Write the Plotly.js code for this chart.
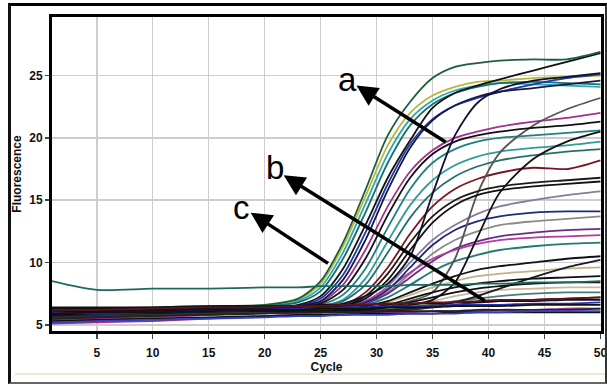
<!DOCTYPE html>
<html><head><meta charset="utf-8">
<script src="https://cdn.plot.ly/plotly-3.0.1.min.js"></script>
<style>
html,body{margin:0;padding:0;background:#fff;}
#wrap{position:relative;width:607px;height:385px;overflow:hidden;background:#fff;}
#chart{position:absolute;left:0;top:0;width:607px;height:385px;}
#frame{position:absolute;box-sizing:border-box;left:8px;top:3px;width:599px;height:381px;border-top:3px solid #000;border-left:3px solid #111;border-right:2px solid #333;border-bottom:2px solid #666;pointer-events:none;}
#rule{position:absolute;left:15px;top:373px;width:590px;height:2px;background:#efe6d8;pointer-events:none;}
</style></head>
<body>
<div id="wrap"><div id="chart"></div><div id="rule"></div><div id="frame"></div></div>
<script>
// Cycle numbers at which each curve was read
const cycles = [1,5,10,15,20,23,25,27,29,31,33,35,37,39,41,44,47,50];

// Fluorescence readings per curve
const curveA  = [6.3,6.3,6.4,6.5,6.6, 7.1,8.5,11.6,15.8,20.2,22.9,24.8,25.7,26.0,26.2,26.3,26.3,26.9];
const curveB  = [6.0,6.1,6.2,6.3,6.5, 7.0,8.3,11.3,15.3,19.4,22.0,23.4,24.1,24.5,24.6,24.8,24.9,25.0];
const curveC  = [5.8,5.9,6.0,6.2,6.4, 6.9,8.0,10.8,14.7,18.7,21.5,23.0,23.8,24.2,24.4,24.3,24.2,24.1];
const curveD  = [6.2,6.2,6.3,6.4,6.5, 6.8,7.7,10.3,14.0,18.0,21.0,22.7,23.6,24.1,24.4,24.5,24.4,24.3];
const curveE  = [6.1,6.1,6.2,6.3,6.4, 6.6,7.3,9.5,13.0,16.8,19.8,22.4,23.6,24.2,24.7,25.4,26.1,26.8];
const curveF  = [5.6,5.7,5.8,6.0,6.2, 6.5,7.1,9.0,12.4,16.3,19.5,21.5,22.6,23.2,23.7,24.3,24.8,25.1];
const curveG  = [5.8,5.9,6.0,6.1,6.3, 6.5,6.9,8.6,11.8,15.8,19.2,21.4,22.6,23.3,23.7,24.0,24.3,24.6];
const curveH  = [5.4,5.5,5.7,5.9,6.1, 6.4,6.8,8.2,11.0,14.5,17.3,19.0,20.0,20.5,20.9,21.3,21.6,22.0];
const curveI  = [6.0,6.0,6.1,6.2,6.3, 6.4,6.7,7.8,10.3,13.8,16.8,18.7,19.7,20.2,20.5,20.8,21.0,21.3];
const curveJ  = [5.7,5.8,5.9,6.0,6.2, 6.3,6.6,7.4,9.5,12.8,15.9,18.0,19.1,19.7,20.0,20.2,20.4,20.6];
const curveK  = [6.1,6.1,6.2,6.2,6.3, 6.3,6.5,7.0,8.7,11.7,14.6,16.6,17.8,18.5,18.9,19.2,19.4,19.7];
const curveL  = [5.9,6.0,6.0,6.1,6.2, 6.3,6.5,6.9,8.2,10.8,13.6,15.6,16.9,17.7,18.2,18.6,18.9,19.1];
const curveM  = [5.5,5.6,5.8,5.9,6.1, 6.2,6.3,6.6,7.6,9.6,12.3,14.5,15.9,16.7,17.2,17.6,17.5,18.2];
const curveN  = [6.0,6.0,6.1,6.1,6.2, 6.2,6.3,6.5,7.3,9.1,11.6,13.7,15.0,15.7,16.1,16.4,16.6,16.8];
const curveO  = [6.3,6.3,6.3,6.3,6.3, 6.2,6.3,6.5,7.1,8.6,11.0,13.2,14.6,15.4,15.8,16.1,16.3,16.5];
const curveP  = [5.6,5.7,5.8,5.9,6.0, 6.1,6.2,6.4,6.9,8.1,10.0,11.8,13.0,13.9,14.5,15.0,15.4,15.7];
const curveQ  = [5.7,5.8,5.9,6.0,6.1, 6.1,6.2,6.4,6.8,7.8,9.6,11.4,12.6,13.3,13.7,14.0,14.1,14.1];
const curveR  = [6.1,6.1,6.1,6.1,6.1, 6.1,6.2,6.3,6.7,7.6,9.1,10.7,11.8,12.5,13.0,13.3,13.5,13.7];
const curveS  = [5.5,5.6,5.7,5.8,6.0, 6.1,6.2,6.3,6.7,7.5,8.8,10.1,11.1,11.7,12.1,12.4,12.6,12.7];
const curveT  = [5.3,5.4,5.6,5.8,6.0, 6.1,6.2,6.4,6.9,7.9,9.2,10.3,11.0,11.5,11.8,12.0,12.1,12.2];
const curveU  = [6.0,6.0,6.0,6.1,6.1, 6.1,6.2,6.3,6.6,7.2,8.2,9.3,10.1,10.6,11.0,11.3,11.5,11.6];
const curveV  = [5.8,5.9,5.9,6.0,6.0, 6.1,6.1,6.2,6.5,6.9,7.6,8.3,8.9,9.4,9.7,10.0,10.3,10.5];
const curveW  = [5.6,5.7,5.8,5.9,6.0, 6.0,6.0,6.1,6.1,6.2,6.3,6.5,6.8,7.3,7.9,8.8,9.6,10.2];
const curveX  = [6.2,6.2,6.2,6.2,6.1, 6.1,6.2,6.2,6.4,6.8,7.4,8.0,8.5,8.9,9.1,9.3,9.5,9.6];
const curveY  = [5.9,5.9,6.0,6.0,6.0, 6.0,6.1,6.2,6.3,6.6,7.1,7.6,8.0,8.3,8.5,8.7,8.8,8.9];
const curveZ  = [5.7,5.7,5.8,5.9,6.0, 6.0,6.0,6.1,6.2,6.4,6.8,7.2,7.6,7.9,8.1,8.3,8.4,8.4];
const curveAA = [6.3,6.3,6.2,6.1,6.0, 6.0,6.0,6.1,6.2,6.3,6.6,6.9,7.3,7.6,7.8,7.9,8.0,8.0];
const curveAB = [5.8,5.8,5.9,5.9,6.0, 6.0,6.0,6.0,6.1,6.2,6.4,6.6,6.9,7.1,7.3,7.5,7.6,7.6];
const curveAC = [5.6,5.7,5.8,5.9,6.0, 6.0,6.0,6.0,6.0,6.1,6.2,6.4,6.6,6.8,6.9,7.0,7.1,7.2];
const lateA   = [6.0,6.0,6.1,6.2,6.3, 6.3,6.4,6.7,7.3,8.3,10.5,15.5,20.2,22.8,23.9,24.6,24.9,25.2];
const lateB   = [5.9,5.9,6.0,6.0,6.1, 6.1,6.2,6.3,6.4,6.6,6.9,7.6,10.3,15.5,18.8,21.0,22.3,23.2];
const lateC   = [6.1,6.1,6.1,6.1,6.1, 6.1,6.1,6.2,6.3,6.4,6.6,7.0,8.4,12.0,15.6,18.3,19.7,20.5];
const flatA   = [5.3,5.4,5.5,5.6,5.7, 5.8,5.8,5.8,5.9,5.9,5.9,5.9,6.0,6.0,6.0,6.0,6.0,6.0];
const flatB   = [5.5,5.6,5.7,5.8,5.9, 6.0,6.0,6.0,6.0,6.1,6.1,6.1,6.1,6.2,6.2,6.2,6.2,6.3];
const flatC   = [5.9,6.0,6.0,6.1,6.2, 6.2,6.3,6.3,6.3,6.4,6.4,6.4,6.5,6.5,6.5,6.6,6.6,6.6];
const flatD   = [6.4,6.4,6.4,6.5,6.5, 6.5,6.6,6.6,6.6,6.7,6.7,6.7,6.8,6.8,6.9,6.9,7.0,7.0];
const flatE   = [5.2,5.3,5.4,5.5,5.6, 5.7,5.7,5.8,5.8,5.8,5.9,5.9,5.9,6.0,6.0,6.1,6.1,6.1];
const flatF   = [5.1,5.2,5.3,5.5,5.7, 5.8,5.8,5.9,5.9,6.0,6.0,6.1,6.1,6.1,6.2,6.2,6.3,6.3];
const flatG   = [6.2,6.2,6.3,6.4,6.4, 6.5,6.5,6.6,6.6,6.7,6.7,6.8,6.8,6.9,7.0,7.0,7.1,7.2];
const flatH   = [6.0,5.9,6.0,6.1,6.2, 6.3,6.3,6.4,6.4,6.5,6.5,6.5,6.6,6.6,6.6,6.7,6.7,6.8];
const tealHigh= [8.5,7.8,7.9,7.9,8.0, 8.0,8.1,8.1,8.1,8.1,8.2,8.2,8.2,8.3,8.3,8.4,8.4,8.5];

const xTicks = [5,10,15,20,25,30,35,40,45,50];
const yTicks = [5,10,15,20,25];

// series with their line colours (drawing order)
const seriesList = [
  [curveB,'#b9b836'],[curveC,'#2ba7b9'],[curveD,'#17716e'],[curveK,'#2f9b9b'],[curveJ,'#1f8181'],
  [curveL,'#26706a'],[curveH,'#a3308e'],[curveP,'#8c7a9c'],[curveR,'#8a8a8a'],[curveS,'#6b2b8b'],
  [curveT,'#b23c9c'],[curveU,'#1f7a70'],[curveX,'#c2b28a'],[curveAA,'#c9b997'],[curveAB,'#4a7a7a'],
  [curveM,'#7a1622'],[curveF,'#2437a1'],[curveQ,'#1c2a78'],[lateB,'#555555'],
  [curveE,'#111111'],[curveA,'#1d5e3a'],[curveG,'#141a4a'],[curveI,'#111111'],[curveN,'#221a10'],
  [curveO,'#111111'],[curveV,'#111111'],[curveW,'#1a1a2a'],[curveY,'#111111'],[curveZ,'#111111'],
  [curveAC,'#333333'],[lateA,'#101030'],[lateC,'#111111'],[tealHigh,'#1a6a60'],
  [flatH,'#2030b0'],[flatF,'#a03080'],[flatA,'#111111'],[flatB,'#222222'],[flatC,'#111111'],
  [flatD,'#111111'],[flatE,'#3040c0'],[flatG,'#601020']
];

const traces = seriesList.map(([vals, col]) => ({
  x: cycles, y: vals, type: 'scatter', mode: 'lines',
  line: {color: col, width: 1.8, shape: 'spline', smoothing: 0.8},
  hoverinfo: 'skip', showlegend: false
}));

const fontFam = 'Liberation Sans, Arial, sans-serif';
const letterFont = {family: 'Liberation Sans Narrow, Liberation Sans, Arial, sans-serif', size: 33, color: '#000'};

const layout = {
  width: 607, height: 385,
  margin: {l: 52, r: 6, t: 17, b: 54},
  paper_bgcolor: 'rgba(0,0,0,0)', plot_bgcolor: '#fff',
  showlegend: false,
  xaxis: {
    range: [1, 50.05], tickvals: xTicks, ticktext: xTicks.map(String),
    ticks: 'outside', ticklen: 5, tickwidth: 1.5, tickcolor: '#444',
    ticklabelstandoff: 4, ticklabeloverflow: 'allow',
    showline: true, linewidth: 3, linecolor: '#000', mirror: true,
    showgrid: true, gridcolor: '#cdcdcd', gridwidth: 1.5, zeroline: false,
    tickfont: {family: fontFam, size: 12, weight: 'bold', color: '#111'},
    title: {text: 'Cycle', font: {family: fontFam, size: 12, weight: 'bold', color: '#111'}, standoff: 4}
  },
  yaxis: {
    range: [4.5, 29.7], tickvals: yTicks, ticktext: yTicks.map(String),
    ticks: 'outside', ticklen: 4, tickwidth: 1.5, tickcolor: '#444',
    showline: true, linewidth: 3, linecolor: '#000', mirror: true,
    showgrid: true, gridcolor: '#cdcdcd', gridwidth: 1.5, zeroline: false,
    tickfont: {family: fontFam, size: 12, weight: 'bold', color: '#111'},
    title: {text: 'Fluorescence', font: {family: fontFam, size: 12, weight: 'bold', color: '#111'}, standoff: 6}
  },
  annotations: [
    {xref:'x', yref:'y', x: 27.4, y: 24.7, text: 'a', showarrow: false, font: letterFont},
    {xref:'x', yref:'y', x: 20.9, y: 17.6, text: 'b', showarrow: false, font: letterFont},
    {xref:'x', yref:'y', x: 17.9, y: 14.4, text: 'c', showarrow: false, font: letterFont},
    {xref:'x', yref:'y', axref:'x', ayref:'y', x: 28.2, y: 24.2, ax: 36.3, ay: 19.6, text: ' ', font:{size:1},
     showarrow: true, arrowhead: 2, arrowsize: 1.2, arrowwidth: 3.5, arrowcolor: '#000', standoff: 0},
    {xref:'x', yref:'y', axref:'x', ayref:'y', x: 21.7, y: 17.0, ax: 39.8, ay: 6.85, text: ' ', font:{size:1},
     showarrow: true, arrowhead: 2, arrowsize: 1.2, arrowwidth: 3.5, arrowcolor: '#000', standoff: 0},
    {xref:'x', yref:'y', axref:'x', ayref:'y', x: 18.75, y: 14.0, ax: 25.8, ay: 9.85, text: ' ', font:{size:1},
     showarrow: true, arrowhead: 2, arrowsize: 1.2, arrowwidth: 3.5, arrowcolor: '#000', standoff: 0}
  ]
};

Plotly.newPlot('chart', traces, layout, {displayModeBar: false, staticPlot: true});
</script>
</body></html>
